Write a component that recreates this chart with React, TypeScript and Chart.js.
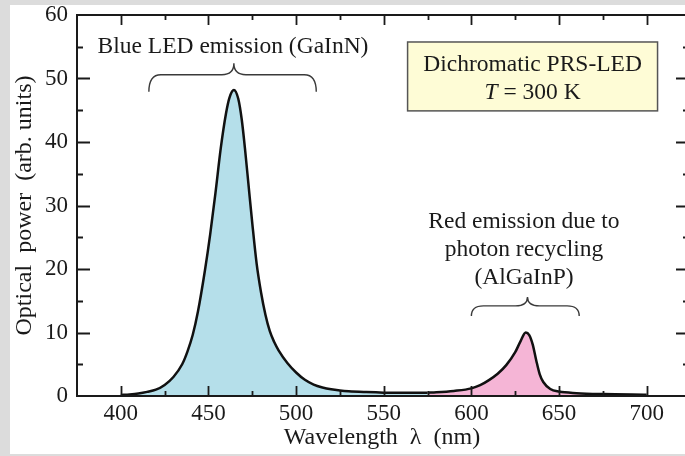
import React, { useEffect, useRef } from "react";
import { Chart, registerables } from "chart.js";

Chart.register(...registerables);

// ---- data ----
const wavelengths = [
  400, 405, 410, 415, 420, 425, 430, 435, 438, 441, 444, 448, 451, 454, 457, 460, 462, 464.5,
  467, 469, 471, 473, 475, 477.5, 480, 482.5, 485, 487.5, 490, 495, 500, 505, 510, 515, 520, 525,
  530, 540, 550, 560, 570, 575, 580, 590, 600, 605, 610, 615, 620, 625, 628, 631, 633, 635, 637,
  639, 641, 645, 650, 660, 675, 700,
];
const opticalPower = [
  0.15, 0.25, 0.4, 0.65, 1.0, 1.75, 3.0, 5.0, 7.0, 9.6, 13.3, 19.8, 25.5, 32, 39, 44.5, 47, 48.2,
  46.8, 43.5, 38.5, 32.8, 27.2, 20.8, 16.3, 12.8, 10.2, 8.5, 7.2, 5.2, 3.7, 2.55, 1.8, 1.35, 1.05, 0.87,
  0.75, 0.62, 0.53, 0.5, 0.5, 0.52, 0.58, 0.8, 1.2, 1.7, 2.5, 3.5, 4.9, 6.9, 8.6, 10.0, 9.6, 8.1, 5.6,
  3.4, 2.2, 1.1, 0.7, 0.45, 0.3, 0.2,
];
const colorSplit = 575; // blue (GaInN) below, red (AlGaInP) above

const xTickLabels = [400, 450, 500, 550, 600, 650, 700];
const xMinorTicks = [425, 475, 525, 575, 625, 675];
const yTickLabels = [0, 10, 20, 30, 40, 50, 60];
const yMinorTicks = [5, 15, 25, 35, 45, 55];

const X_MIN = 375;
const X_MAX = 723;
const Y_MIN = 0;
const Y_MAX = 60;

const xTitle = "Wavelength  \u03bb  (nm)";
const yTitle = "Optical  power  (arb. units)";

const blueLabel = "Blue LED emission (GaInN)";
const redLabelLines = ["Red emission due to", "photon recycling", "(AlGaInP)"];
const boxLine1 = "Dichromatic PRS-LED";
const boxLine2Italic = "T";
const boxLine2Rest = " = 300 K";

// annotation anchors (data coordinates)
const blueLabelPos = { x: 464, y: 55 };
const blueBrace = { x1: 416, x2: 511.5, tip: 464.5, yEnd: 47.9, yMid: 50.6, yTip: 52.4 };
const redLabelPos = { x: 630, ys: [27.4, 23.0, 18.6] };
const redBrace = { x1: 600, x2: 661.5, tip: 632, yEnd: 12.6, yMid: 14.2, yTip: 15.6 };
const infoBox = { x1: 563.6, x2: 706.2, y1: 55.75, y2: 44.9, line1Y: 52.1, line2Y: 47.7 };

// ---- styles ----
const FONT_FAMILY = "'Liberation Serif', 'Times New Roman', Times, serif";
const TEXT_COLOR = "#1a1a1a";
const BLUE_FILL = "#b5dfea";
const RED_FILL = "#f5b5d6";
const LABEL_SIZE = 23.5;

const bluePoints = wavelengths
  .map((w, i) => ({ x: w, y: opticalPower[i] }))
  .filter((p) => p.x <= colorSplit);
const redPoints = wavelengths
  .map((w, i) => ({ x: w, y: opticalPower[i] }))
  .filter((p) => p.x >= colorSplit);

function drawBrace(ctx: CanvasRenderingContext2D, xs: any, ys: any, b: any) {
  const x1 = xs.getPixelForValue(b.x1);
  const x2 = xs.getPixelForValue(b.x2);
  const xt = xs.getPixelForValue(b.tip);
  const yE = ys.getPixelForValue(b.yEnd);
  const yM = ys.getPixelForValue(b.yMid);
  const yT = ys.getPixelForValue(b.yTip);
  const r = 12;
  ctx.beginPath();
  ctx.moveTo(x1, yE);
  ctx.quadraticCurveTo(x1, yM, x1 + r, yM);
  ctx.lineTo(xt - r, yM);
  ctx.quadraticCurveTo(xt, yM, xt, yT);
  ctx.quadraticCurveTo(xt, yM, xt + r, yM);
  ctx.lineTo(x2 - r, yM);
  ctx.quadraticCurveTo(x2, yM, x2, yE);
  ctx.stroke();
}

const framePlugin = {
  id: "frame",
  afterDatasetsDraw(chart: any) {
    const { ctx, chartArea: a, scales } = chart;
    const xs = scales.x;
    const ys = scales.y;
    ctx.save();
    ctx.strokeStyle = TEXT_COLOR;
    ctx.lineWidth = 2;
    ctx.strokeRect(a.left, a.top, a.right - a.left, a.bottom - a.top);

    ctx.lineWidth = 1.8;
    ctx.beginPath();
    const tickX = (vals: number[], len: number) => {
      vals.forEach((v) => {
        const px = Math.round(xs.getPixelForValue(v)) + 0.5;
        ctx.moveTo(px, a.bottom);
        ctx.lineTo(px, a.bottom - len);
        ctx.moveTo(px, a.top);
        ctx.lineTo(px, a.top + len);
      });
    };
    const tickY = (vals: number[], lenL: number, lenR: number) => {
      vals.forEach((v) => {
        const py = Math.round(ys.getPixelForValue(v)) + 0.5;
        ctx.moveTo(a.left, py);
        ctx.lineTo(a.left + lenL, py);
        ctx.moveTo(a.right, py);
        ctx.lineTo(a.right - lenR, py);
      });
    };
    tickX(xTickLabels, 10);
    tickX(xMinorTicks, 5);
    tickY(yTickLabels.filter((v) => v > Y_MIN && v < Y_MAX), 13, 11);
    tickY(yMinorTicks, 6, 4);
    ctx.stroke();

    // braces
    ctx.strokeStyle = "#3a3a3a";
    ctx.lineWidth = 1.4;
    drawBrace(ctx, xs, ys, blueBrace);
    drawBrace(ctx, xs, ys, redBrace);

    // labels
    const f = `${LABEL_SIZE}px ${FONT_FAMILY}`;
    const fi = `italic ${LABEL_SIZE}px ${FONT_FAMILY}`;
    ctx.fillStyle = TEXT_COLOR;
    ctx.textAlign = "center";
    ctx.textBaseline = "middle";
    ctx.font = f;
    ctx.fillText(blueLabel, xs.getPixelForValue(blueLabelPos.x), ys.getPixelForValue(blueLabelPos.y));
    redLabelLines.forEach((t, i) => {
      ctx.fillText(t, xs.getPixelForValue(redLabelPos.x), ys.getPixelForValue(redLabelPos.ys[i]));
    });

    // info box
    const bx1 = xs.getPixelForValue(infoBox.x1);
    const bx2 = xs.getPixelForValue(infoBox.x2);
    const by1 = ys.getPixelForValue(infoBox.y1);
    const by2 = ys.getPixelForValue(infoBox.y2);
    ctx.fillStyle = "#fefcd6";
    ctx.fillRect(bx1, by1, bx2 - bx1, by2 - by1);
    ctx.strokeStyle = "#555";
    ctx.lineWidth = 1.5;
    ctx.strokeRect(bx1, by1, bx2 - bx1, by2 - by1);
    ctx.fillStyle = TEXT_COLOR;
    const cx = (bx1 + bx2) / 2;
    ctx.fillText(boxLine1, cx, ys.getPixelForValue(infoBox.line1Y));
    ctx.font = fi;
    const w1 = ctx.measureText(boxLine2Italic).width;
    ctx.font = f;
    const w2 = ctx.measureText(boxLine2Rest).width;
    const sx = cx - (w1 + w2) / 2;
    const ly = ys.getPixelForValue(infoBox.line2Y);
    ctx.textAlign = "left";
    ctx.font = fi;
    ctx.fillText(boxLine2Italic, sx, ly);
    ctx.font = f;
    ctx.fillText(boxLine2Rest, sx + w1, ly);
    ctx.restore();
  },
};

export default function App() {
  const ref = useRef<HTMLCanvasElement>(null);
  useEffect(() => {
    const canvas = ref.current;
    if (!canvas) return;
    const tickFont = { family: FONT_FAMILY, size: 23 };
    const titleFont = { family: FONT_FAMILY, size: 24 };
    const chart = new Chart(canvas, {
      type: "line",
      data: {
        datasets: [
          {
            data: bluePoints,
            borderColor: "#111",
            borderWidth: 2.5,
            backgroundColor: BLUE_FILL,
            fill: "origin",
            pointRadius: 0,
            cubicInterpolationMode: "monotone",
          },
          {
            data: redPoints,
            borderColor: "#111",
            borderWidth: 2.5,
            backgroundColor: RED_FILL,
            fill: "origin",
            pointRadius: 0,
            cubicInterpolationMode: "monotone",
          },
        ],
      },
      options: {
        responsive: false,
        animation: false,
        devicePixelRatio: 1,
        layout: { padding: { left: 0, top: 10, right: 13, bottom: 0 } },
        plugins: { legend: { display: false }, tooltip: { enabled: false } },
        scales: {
          x: {
            type: "linear",
            min: X_MIN,
            max: X_MAX,
            grid: { display: false, drawTicks: false },
            border: { display: false },
            ticks: { font: tickFont, color: TEXT_COLOR, padding: 4, maxRotation: 0 },
            afterBuildTicks: (s: any) => {
              s.ticks = xTickLabels.map((v) => ({ value: v }));
            },
            afterFit: (s: any) => {
              s.height = 58;
              s.paddingLeft = 0;
              s.paddingRight = 0;
            },
            title: {
              display: true,
              text: xTitle,
              font: titleFont,
              color: TEXT_COLOR,
              padding: { top: 0, bottom: 2 },
            },
          },
          y: {
            min: Y_MIN,
            max: Y_MAX,
            grid: { display: false, drawTicks: false },
            border: { display: false },
            ticks: { font: tickFont, color: TEXT_COLOR, padding: 9, stepSize: 10 },
            afterBuildTicks: (s: any) => {
              s.ticks = yTickLabels.map((v) => ({ value: v }));
            },
            afterFit: (s: any) => {
              s.width = 67;
              s.paddingTop = 0;
              s.paddingBottom = 0;
            },
            title: {
              display: true,
              text: yTitle,
              font: titleFont,
              color: TEXT_COLOR,
              padding: { top: 0, bottom: 0 },
            },
          },
        },
      },
      plugins: [framePlugin],
    } as any);
    return () => chart.destroy();
  }, []);

  return (
    <div
      style={{
        position: "fixed",
        left: 0,
        top: 0,
        width: 685,
        height: 456,
        background: "#dcdcdc",
        overflow: "hidden",
      }}
    >
      <div
        style={{
          position: "absolute",
          left: 10,
          top: 5,
          width: 700,
          height: 449,
          background: "#ffffff",
        }}
      >
        <canvas ref={ref} width={690} height={449} style={{ display: "block", width: 690, height: 449 }} />
      </div>
    </div>
  );
}
